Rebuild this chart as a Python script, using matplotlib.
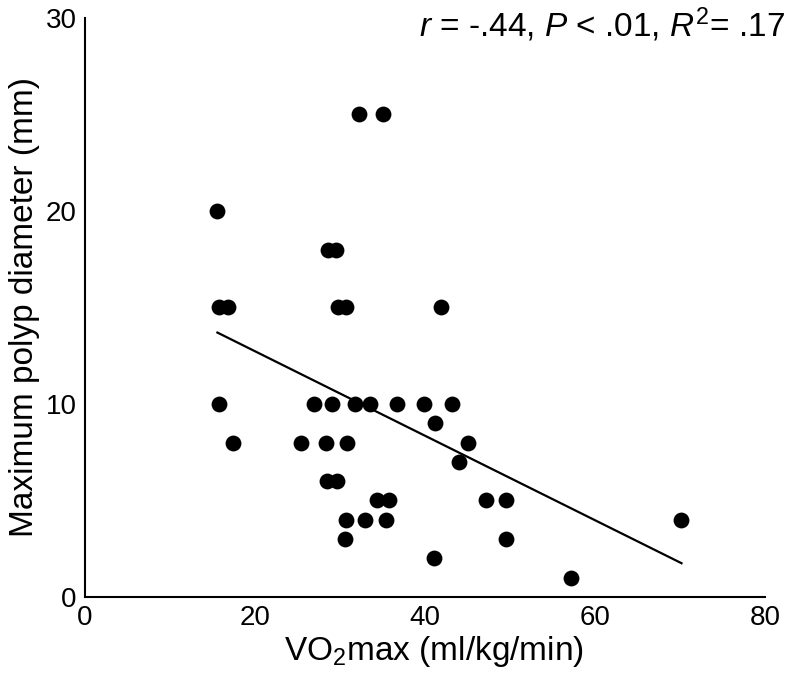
import matplotlib.pyplot as plt

plt.rcParams['font.family'] = ['Liberation Sans', 'DejaVu Sans']
plt.rcParams['mathtext.fontset'] = 'custom'
plt.rcParams['mathtext.rm'] = 'Liberation Sans'
plt.rcParams['mathtext.it'] = 'Liberation Sans:italic'

# VO2max (ml/kg/min) vs max polyp diameter (mm)
vo2 = [15.6, 15.8, 16.8, 32.2, 35.1, 28.6, 29.6, 29.8, 30.7, 41.9,
       15.8, 27.0, 29.1, 31.8, 33.6, 36.7, 39.9, 43.2,
       41.2,
       17.4, 25.4, 28.4, 30.8, 45.1,
       44.0,
       28.5, 29.7,
       34.4, 35.8, 47.2, 49.6,
       30.7, 33.0, 35.4, 70.1,
       30.6, 49.5,
       41.1,
       57.2]
diam = [20, 15, 15, 25, 25, 18, 18, 15, 15, 15,
        10, 10, 10, 10, 10, 10, 10, 10,
        9,
        8, 8, 8, 8, 8,
        7,
        6, 6,
        5, 5, 5, 5,
        4, 4, 4, 4,
        3, 3,
        2,
        1]

# regression line end points
fit_x = [15.6, 70.2]
fit_y = [13.7, 1.75]

fig = plt.figure(figsize=(8, 6.78), dpi=100)
ax = fig.add_axes([0.106, 0.1195, 0.85, 0.854])
ax.scatter(vo2, diam, s=130, color='black', zorder=3, linewidths=0)
ax.plot(fit_x, fit_y, color='black', lw=1.6)

ax.set_xlim(0, 80)
ax.set_ylim(0, 30)
ax.set_xticks([0, 20, 40, 60, 80])
ax.set_yticks([0, 10, 20, 30])
ax.tick_params(length=0, labelsize=20, pad=6)
for s in ['top', 'right']:
    ax.spines[s].set_visible(False)
for s in ['left', 'bottom']:
    ax.spines[s].set_linewidth(1.5)

ax.set_xlabel(r'VO$_2$max (ml/kg/min)', fontsize=24, labelpad=2)
ax.xaxis.label.set_x(0.513)
ax.set_ylabel('Maximum polyp diameter (mm)', fontsize=24, labelpad=4)
ax.text(1.03, 0.988, r'$\it{r}$ = -.44, $\it{P}$ < .01, $\it{R}^{2}$= .17',
        transform=ax.transAxes, ha='right', va='center', fontsize=24)

fig.savefig('out.png', dpi=100)
